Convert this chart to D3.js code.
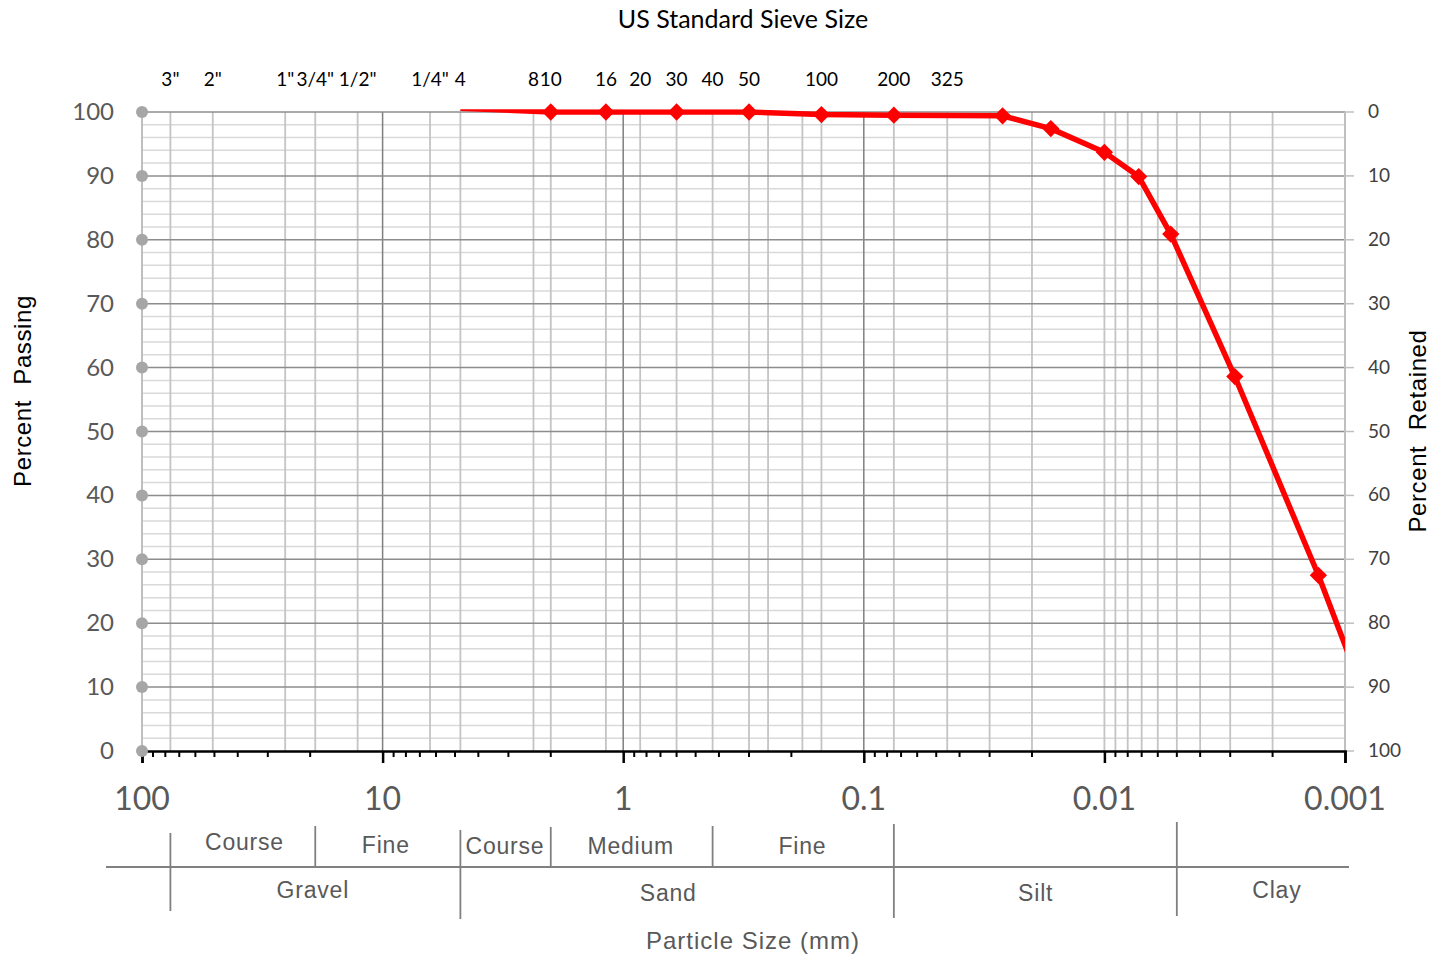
<!DOCTYPE html>
<html>
<head>
<meta charset="utf-8">
<script src="https://cdn.jsdelivr.net/npm/d3@7"></script>
<style>
  html, body { margin: 0; padding: 0; background: #fff; }
  svg { display: block; }
</style>
</head>
<body>
<svg id="chart" width="1431" height="956"></svg>
<script>
// US standard sieve designations and their openings (mm)
const sieveLabels = ['3"', '2"', '1"', '3/4"', '1/2"', '1/4"', '4', '8', '10', '16', '20', '30', '40', '50', '100', '200', '325'];
const sieveSizes  = [76.2, 50.8, 25.4, 19.05, 12.7, 6.35, 4.75, 2.36, 2.0, 1.18, 0.85, 0.6, 0.425, 0.3, 0.15, 0.075, 0.045];

// additional vertical grid lines (mm)
const extraGrid = [0.25, 0.18, 0.03, 0.02, 0.009, 0.008, 0.007, 0.006, 0.005, 0.004, 0.003, 0.002, 0.01, 0.001];
const decadeLines = [10, 1, 0.1];
const xTickValues = [100, 10, 1, 0.1, 0.01, 0.001];
const xTickLabels = ['100', '10', '1', '0.1', '0.01', '0.001'];

// gradation test results: sieve + hydrometer
const grainSize      = [4.75, 2.0, 1.18, 0.6, 0.3, 0.15, 0.075, 0.0265, 0.0167, 0.0100, 0.0072, 0.0053, 0.00287, 0.00129, 0.0008];
const percentPassing = [100.6, 100, 100, 100, 100, 99.6, 99.5, 99.4, 97.4, 93.7, 89.9, 80.9, 58.6, 27.5, 7.0];

// soil classification bands (sizes in mm; labelAt = where the name sits)
const subBands = [
  { name: 'Course', from: 76.2, to: 19.05, labelAt: 37.5 },
  { name: 'Fine',   from: 19.05, to: 4.75, labelAt: 9.7 },
  { name: 'Course', from: 4.75, to: 2.0, labelAt: 3.1 },
  { name: 'Medium', from: 2.0, to: 0.425, labelAt: 0.93 },
  { name: 'Fine',   from: 0.425, to: 0.075, labelAt: 0.18 }
];
const mainBands = [
  { name: 'Gravel', from: 76.2, to: 4.75, labelAt: 19.5 },
  { name: 'Sand',   from: 4.75, to: 0.075, labelAt: 0.65 },
  { name: 'Silt',   from: 0.075, to: 0.005, labelAt: 0.0193 },
  { name: 'Clay',   from: 0.005, to: 0.001, labelAt: 0.00192 }
];

(function () {
const svg = d3.select('#chart');
const pLeft = 142, pRight = 1345, pTop = 112, pBottom = 751;

const x = d3.scaleLog().domain([100, 0.001]).range([pLeft, pRight]);
const y = d3.scaleLinear().domain([0, 100]).range([pBottom, pTop]);

const calibri = 'Lato, "Open Sans", sans-serif';
const arial = '"Liberation Sans", Arial, sans-serif';

// horizontal grid: minor every 2 %, major every 10 %
const minorY = d3.range(2, 100, 2).filter(v => v % 10 !== 0);
const majorY = d3.range(10, 101, 10);
svg.append('g').selectAll('line').data(minorY).join('line')
  .attr('x1', pLeft).attr('x2', pRight)
  .attr('y1', d => y(d)).attr('y2', d => y(d))
  .attr('stroke', '#d9d9d9').attr('stroke-width', 1.5);

// vertical grid
const vGrid = sieveSizes.concat(extraGrid);
svg.append('g').selectAll('line').data(vGrid).join('line')
  .attr('x1', d => x(d)).attr('x2', d => x(d))
  .attr('y1', pTop).attr('y2', pBottom)
  .attr('stroke', '#c4c4c4').attr('stroke-width', 1.8);
svg.append('g').selectAll('line').data(decadeLines).join('line')
  .attr('x1', d => x(d)).attr('x2', d => x(d))
  .attr('y1', pTop).attr('y2', pBottom)
  .attr('stroke', '#7f7f7f').attr('stroke-width', 1.5);

svg.append('g').selectAll('line').data(majorY).join('line')
  .attr('x1', pLeft).attr('x2', pRight)
  .attr('y1', d => y(d)).attr('y2', d => y(d))
  .attr('stroke', '#8c8c8c').attr('stroke-width', 1.5);

// left and right axis lines, right-hand ticks
svg.append('line').attr('x1', pLeft).attr('x2', pLeft).attr('y1', pTop).attr('y2', pBottom)
  .attr('stroke', '#bfbfbf').attr('stroke-width', 2);
svg.append('line').attr('x1', pRight).attr('x2', pRight).attr('y1', pTop).attr('y2', pBottom)
  .attr('stroke', '#bfbfbf').attr('stroke-width', 2);
const yTicks = d3.range(0, 101, 10);
svg.append('g').selectAll('line').data(yTicks).join('line')
  .attr('x1', pRight).attr('x2', pRight + 9)
  .attr('y1', d => y(d)).attr('y2', d => y(d))
  .attr('stroke', '#bfbfbf').attr('stroke-width', 1.5);

// bottom axis (reversed log scale)
const xAxis = d3.axisBottom(x)
  .tickValues(xTickValues)
  .tickSize(12)
  .tickFormat('');
const gx = svg.append('g').attr('transform', `translate(0,${pBottom})`).call(xAxis);
gx.select('.domain').attr('stroke', '#000').attr('stroke-width', 2.5);
gx.selectAll('.tick line').attr('stroke', '#000').attr('stroke-width', 2.5);
const minorTicks = [];
[100, 10, 1, 0.1, 0.01].forEach(dec => {
  for (let k = 9; k >= 2; k--) minorTicks.push(dec * k / 10);
});
svg.append('g').selectAll('line').data(minorTicks).join('line')
  .attr('x1', d => x(d)).attr('x2', d => x(d))
  .attr('y1', pBottom).attr('y2', pBottom + 6)
  .attr('stroke', '#000').attr('stroke-width', 2);
svg.append('g').selectAll('text').data(xTickValues).join('text')
  .attr('x', d => x(d)).attr('y', 810)
  .attr('text-anchor', 'middle')
  .attr('font-family', calibri).attr('font-size', 32)
  .attr('fill', '#595959')
  .text((d, i) => xTickLabels[i]);

// left axis: dot markers and labels
svg.append('g').selectAll('circle').data(yTicks).join('circle')
  .attr('cx', pLeft).attr('cy', d => y(d)).attr('r', 6)
  .attr('fill', '#a6a6a6');
svg.append('g').selectAll('text').data(yTicks).join('text')
  .attr('x', 114).attr('y', d => y(d) + 8)
  .attr('text-anchor', 'end')
  .attr('font-family', calibri).attr('font-size', 24)
  .attr('fill', '#595959')
  .text(d => d);

// right axis: percent retained
svg.append('g').selectAll('text').data(yTicks).join('text')
  .attr('x', 1368).attr('y', d => y(d) + 6)
  .attr('text-anchor', 'start')
  .attr('font-family', calibri).attr('font-size', 19)
  .attr('fill', '#404040')
  .text(d => 100 - d);

// top: sieve sizes
svg.append('g').selectAll('text').data(sieveSizes).join('text')
  .attr('x', d => x(d)).attr('y', 86)
  .attr('text-anchor', 'middle')
  .attr('font-family', calibri).attr('font-size', 19)
  .attr('fill', '#000')
  .text((d, i) => sieveLabels[i]);
svg.append('text').attr('x', 743).attr('y', 28)
  .attr('text-anchor', 'middle')
  .attr('font-family', calibri).attr('font-size', 25)
  .attr('fill', '#000')
  .text('US Standard Sieve Size');

// axis titles
svg.append('text')
  .attr('transform', 'translate(31,391) rotate(-90)')
  .attr('text-anchor', 'middle')
  .attr('font-family', arial).attr('font-size', 24)
  .attr('letter-spacing', 0.6)
  .attr('word-spacing', 8)
  .attr('fill', '#000')
  .text('Percent Passing');
svg.append('text')
  .attr('transform', 'translate(1426,431) rotate(-90)')
  .attr('text-anchor', 'middle')
  .attr('font-family', arial).attr('font-size', 24)
  .attr('letter-spacing', 0.6)
  .attr('word-spacing', 8)
  .attr('fill', '#000')
  .text('Percent Retained');

// gradation curve
svg.append('clipPath').attr('id', 'plotClip')
  .append('rect').attr('x', 0).attr('y', pTop - 2.8)
  .attr('width', pRight).attr('height', pBottom - pTop + 50);
const pts = grainSize.map((d, i) => [d, percentPassing[i]]);
const line = d3.line().x(d => x(d[0])).y(d => y(d[1]));
svg.append('path')
  .datum(pts)
  .attr('clip-path', 'url(#plotClip)')
  .attr('d', line)
  .attr('fill', 'none')
  .attr('stroke', '#ff0000')
  .attr('stroke-width', 5.5)
  .attr('stroke-linejoin', 'round');
const diamond = d3.symbol().type(d3.symbolDiamond2).size(190);
svg.append('g').selectAll('path')
  .data(pts.filter(p => p[1] <= 100 && p[0] >= 0.001))
  .join('path')
  .attr('transform', d => `translate(${x(d[0])},${y(d[1])})`)
  .attr('d', diamond)
  .attr('fill', '#ff0000');

// classification table
const tbl = svg.append('g').attr('stroke', '#808080').attr('stroke-width', 1.8);
tbl.append('line').attr('x1', 106).attr('x2', 1349).attr('y1', 867).attr('y2', 867);
const dividers = [
  { d: 76.2, y1: 833, y2: 911 },
  { d: 19.05, y1: 826, y2: 867 },
  { d: 4.75, y1: 830, y2: 919 },
  { d: 2.0, y1: 827, y2: 867 },
  { d: 0.425, y1: 826, y2: 867 },
  { d: 0.075, y1: 824, y2: 918 },
  { d: 0.005, y1: 822, y2: 916 }
];
tbl.selectAll('line.div').data(dividers).join('line')
  .attr('class', 'div')
  .attr('x1', d => x(d.d)).attr('x2', d => x(d.d))
  .attr('y1', d => d.y1).attr('y2', d => d.y2);

const subY = [850, 853, 854, 854, 854];
svg.append('g').selectAll('text').data(subBands).join('text')
  .attr('x', d => x(d.labelAt))
  .attr('y', (d, i) => subY[i])
  .attr('text-anchor', 'middle')
  .attr('font-family', arial).attr('font-size', 23)
  .attr('letter-spacing', 0.8)
  .attr('fill', '#595959')
  .text(d => d.name);
const mainY = [898, 901, 901, 898];
svg.append('g').selectAll('text').data(mainBands).join('text')
  .attr('x', d => x(d.labelAt))
  .attr('y', (d, i) => mainY[i])
  .attr('text-anchor', 'middle')
  .attr('font-family', arial).attr('font-size', 23)
  .attr('letter-spacing', 0.8)
  .attr('fill', '#595959')
  .text(d => d.name);
svg.append('text').attr('x', 753).attr('y', 949)
  .attr('text-anchor', 'middle')
  .attr('font-family', arial).attr('font-size', 24)
  .attr('letter-spacing', 1)
  .attr('fill', '#595959')
  .text('Particle Size (mm)');
})();
</script>
</body>
</html>
